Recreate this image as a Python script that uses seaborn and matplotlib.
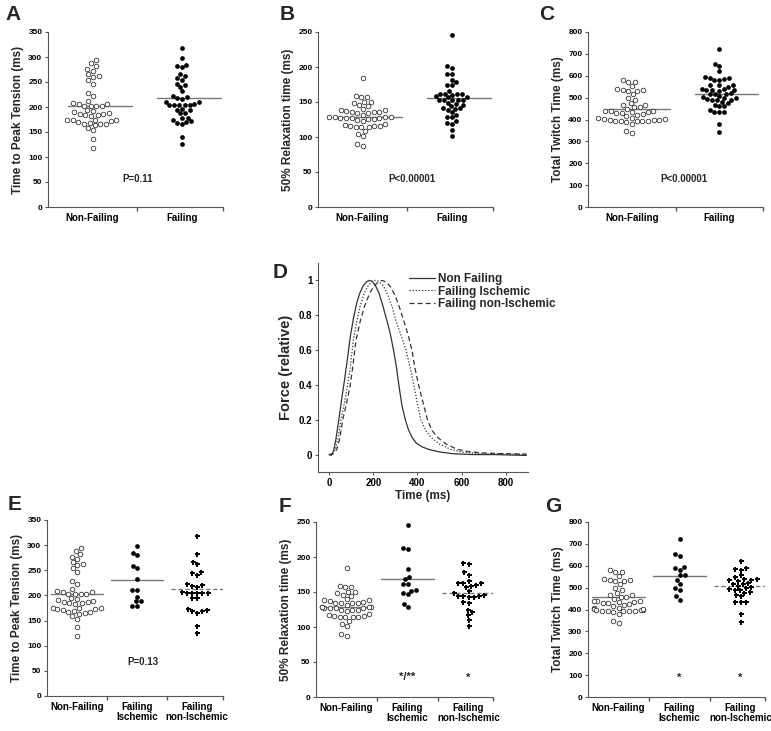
import numpy as np
import pandas as pd
import matplotlib
matplotlib.use("Agg")
import matplotlib.pyplot as plt
import seaborn as sns

# ---------------- data ----------------
# Time to peak tension (ms)
ttp_nonfailing = [295, 289, 282, 273, 277, 266, 260, 262, 254, 247, 228, 222,
                  208, 207, 203, 203, 203, 203, 207, 212,
                  194, 189, 187, 184, 183, 184, 186, 190, 193,
                  175, 175, 171, 169, 167, 166, 173, 174, 175,
                  164, 167, 159, 154, 137, 119]
ttp_ischemic = [298, 284, 280, 258, 254, 232, 211, 211, 197, 189, 188, 179, 179]
ttp_nonischemic = [318, 282, 262, 267, 245, 241, 247, 219, 223, 220, 217,
                   205, 205, 205, 207, 205, 205, 194, 194,
                   174, 170, 166, 169, 172, 140, 126]
ttp_failing = ttp_ischemic + ttp_nonischemic

# 50% relaxation time (ms)
rt50_nonfailing = [185, 157, 157, 159, 150, 144, 150, 146, 148,
                   139, 136, 135, 134, 132, 134, 135, 137, 139, 140,
                   129, 128, 127, 125, 124, 123, 125, 127, 127, 127, 128, 129,
                   117, 116, 114, 114, 114, 115, 116, 119,
                   108, 105, 101, 90, 87]
rt50_failing = [245, 198, 201, 182, 190, 190, 174, 174, 178,
                165, 162, 162, 162, 161, 158, 160, 157, 157,
                149, 153, 153, 153, 153, 153, 144, 142, 146, 147,
                140, 139, 141, 135, 131, 128, 128, 123, 119, 120, 110, 101]
rt50_ischemic = [246, 211, 213, 183, 172, 168, 162, 162, 152, 147, 149, 153, 133, 129]
rt50_nonischemic = [191, 190, 175, 178, 166, 163, 163, 163, 160, 159, 157, 151,
                    146, 144, 143, 143, 144, 144, 148, 135, 136, 125, 117, 121, 110, 101]

# Total twitch time (ms)
ttt_nonfailing = [582, 572, 572, 553, 537, 530, 530, 537, 541, 515, 500, 491,
                  465, 457, 450, 457, 465, 477,
                  439, 434, 434, 430, 419, 415, 424, 430, 439, 439,
                  409, 404, 399, 393, 393, 389, 381, 393, 393, 393, 396, 399, 404, 409,
                  346, 338]
ttt_ischemic = [723, 655, 643, 590, 582, 595, 556, 556, 537, 498, 518, 491, 460, 445]
ttt_nonischemic = [620, 590, 582, 585, 549, 532, 537, 540, 540, 534, 559,
                   518, 521, 509, 518, 498, 494, 491, 503,
                   460, 476, 468, 479, 488, 433, 433, 436, 381, 341]
ttt_failing = ttt_ischemic + ttt_nonischemic

# group means (horizontal lines)
means_A = [203, 218]
means_B = [129, 155]
means_C = [450, 517]
means_E = [203, 231, 213]
means_F = [129, 169, 148]
means_G = [456, 555, 506]

cats2 = ["Non-Failing", "Failing"]
cats3 = ["Non-Failing", "Failing\nIschemic", "Failing\nnon-Ischemic"]

# averaged twitch traces (panel D)
t_nf = [0, 10, 20, 30, 42, 55, 69, 80, 96, 110, 125, 140, 155, 170, 182, 195, 210,
        225, 240, 255, 270, 280, 293, 305, 318, 330, 345, 360, 375, 395, 420, 450,
        500, 560, 650, 750, 893]
f_nf = [0, -0.005, 0.02, 0.08, 0.18, 0.3, 0.42, 0.52, 0.676, 0.78, 0.87, 0.93,
        0.97, 0.992, 1.0, 0.995, 0.97, 0.93, 0.87, 0.8, 0.73, 0.676, 0.59, 0.5,
        0.38, 0.28, 0.2, 0.14, 0.1, 0.065, 0.045, 0.03, 0.015, 0.005, 0.0, 0.0, -0.005]
t_isch = [0, 15, 30, 42, 54, 70, 84, 96, 109, 125, 140, 160, 180, 195, 210, 225,
          245, 265, 285, 305, 328, 348, 367, 385, 400, 415, 437, 460, 500, 550, 600,
          680, 780, 893]
f_isch = [0, 0.005, 0.04, 0.1, 0.2, 0.3, 0.4, 0.5, 0.65, 0.76, 0.85, 0.93, 0.975,
          0.995, 1.0, 0.995, 0.97, 0.92, 0.85, 0.76, 0.676, 0.6, 0.5, 0.39, 0.29,
          0.2, 0.14, 0.1, 0.06, 0.03, 0.015, 0.005, 0.003, 0.0]
t_nonisch = [0, 20, 35, 48, 62, 80, 96, 107, 121, 140, 160, 185, 205, 222, 240, 260,
             280, 300, 320, 340, 360, 375, 388, 405, 425, 445, 465, 490, 530, 580,
             640, 720, 800, 893]
f_nonisch = [0, 0.005, 0.03, 0.09, 0.2, 0.3, 0.4, 0.5, 0.65, 0.76, 0.85, 0.93, 0.97,
             0.99, 1.0, 0.99, 0.96, 0.91, 0.84, 0.76, 0.676, 0.6, 0.5, 0.4, 0.3, 0.2,
             0.14, 0.1, 0.06, 0.03, 0.015, 0.008, 0.005, 0.003]

# ---------------- style ----------------
sns.set_theme(style="ticks")
plt.rcParams.update({
    "font.family": ["Liberation Sans", "DejaVu Sans"],
    "font.weight": "bold",
    "axes.labelweight": "bold",
    "axes.linewidth": 0.8,
    "axes.edgecolor": "#555555",
    "xtick.color": "#555555",
    "ytick.color": "#555555",
    "xtick.labelcolor": "black",
    "ytick.labelcolor": "black",
    "xtick.major.width": 0.8,
    "ytick.major.width": 0.8,
})

fig = plt.figure(figsize=(7.71, 7.31), dpi=100)

W, H = 771.0, 731.0


def rect(left, top, right, bottom):
    return [left / W, 1 - bottom / H, (right - left) / W, (bottom - top) / H]


def scatter_panel(r, cats, groups, kinds, means, ymax, ystep, ylabel, xright, off, half):
    ax = fig.add_axes(r)
    rows = []
    for c, vals in zip(cats, groups):
        rows += [(c, v) for v in vals]
    df = pd.DataFrame(rows, columns=["grp", "val"])
    for c, kind in zip(cats, kinds):
        sub = df[df["grp"] == c]
        if kind == "open":
            sns.swarmplot(data=sub, x="grp", y="val", order=cats, ax=ax, size=3.3,
                          marker="o", color="white", edgecolor="#333333", linewidth=0.6)
        elif kind == "filled":
            sns.swarmplot(data=sub, x="grp", y="val", order=cats, ax=ax, size=3.4,
                          marker="o", color="black", linewidth=0)
        else:
            sns.swarmplot(data=sub, x="grp", y="val", order=cats, ax=ax, size=3.6,
                          marker="P", color="black", linewidth=0)
    for i, (m, kind) in enumerate(zip(means, kinds)):
        ls = (0, (3, 2)) if kind == "star" else "-"
        ax.plot([i + off - half, i + off + half], [m, m], color="#777777", lw=1, ls=ls)
    ax.set_ylim(0, ymax)
    ax.set_yticks(np.arange(0, ymax + 1, ystep))
    ax.set_xlim(-0.5, xright)
    ax.set_xlabel("")
    ax.set_ylabel(ylabel, fontsize=8.5, labelpad=3)
    ax.tick_params(axis="y", labelsize=6, length=2.5, pad=1.5)
    ax.tick_params(axis="x", which="major", length=0, labelsize=7, pad=4)
    ax.set_xticks([i + 0.5 for i in range(len(cats) - 1)] + [xright], minor=True)
    ax.tick_params(axis="x", which="minor", length=3)
    for lab in ax.get_xticklabels():
        lab.set_fontweight("bold")
        lab.set_linespacing(1.0)
    sns.despine(ax=ax)
    return ax


axA = scatter_panel(rect(48, 32, 223, 207), cats2, [ttp_nonfailing, ttp_failing],
                    ["open", "filled"], means_A, 350, 50, "Time to Peak Tension (ms)",
                    1.46, 0.08, 0.36)
axA.text(0.5, 56, "P=0.11", ha="center", va="center", fontsize=7)

axB = scatter_panel(rect(318, 32, 493, 207), cats2, [rt50_nonfailing, rt50_failing],
                    ["open", "filled"], means_B, 250, 50, "50% Relaxation time (ms)",
                    1.46, 0.08, 0.36)
axB.text(0.55, 40, "P<0.00001", ha="center", va="center", fontsize=7)

axC = scatter_panel(rect(588, 32, 763, 207), cats2, [ttt_nonfailing, ttt_failing],
                    ["open", "filled"], means_C, 800, 100, "Total Twitch Time (ms)",
                    1.5, 0.08, 0.36)
axC.text(0.6, 126, "P<0.00001", ha="center", va="center", fontsize=7)

axE = scatter_panel(rect(47, 520, 223, 696), cats3,
                    [ttp_nonfailing, ttp_ischemic, ttp_nonischemic],
                    ["open", "filled", "star"], means_E, 350, 50,
                    "Time to Peak Tension (ms)", 2.43, 0.0, 0.43)
axE.text(1.1, 68, "P=0.13", ha="center", va="center", fontsize=7)

axF = scatter_panel(rect(316, 522, 493, 697), cats3,
                    [rt50_nonfailing, rt50_ischemic, rt50_nonischemic],
                    ["open", "filled", "star"], means_F, 250, 50,
                    "50% Relaxation time (ms)", 2.4, 0.0, 0.43)
axF.text(1, 28, "*/**", ha="center", va="center", fontsize=8)
axF.text(2, 28, "*", ha="center", va="center", fontsize=8)

axG = scatter_panel(rect(588, 522, 765, 697), cats3,
                    [ttt_nonfailing, ttt_ischemic, ttt_nonischemic],
                    ["open", "filled", "star"], means_G, 800, 100,
                    "Total Twitch Time (ms)", 2.4, 0.0, 0.43)
axG.text(1, 88, "*", ha="center", va="center", fontsize=8)
axG.text(2, 88, "*", ha="center", va="center", fontsize=8)

# ---------------- panel D: twitch traces ----------------
axD = fig.add_axes(rect(318, 263, 528, 472))
traces = pd.concat([
    pd.DataFrame({"t": t_nf, "force": f_nf, "curve": "Non Failing"}),
    pd.DataFrame({"t": t_isch, "force": f_isch, "curve": "Failing Ischemic"}),
    pd.DataFrame({"t": t_nonisch, "force": f_nonisch, "curve": "Failing non-Ischemic"}),
])
sns.lineplot(data=traces, x="t", y="force", style="curve", ax=axD, color="#333333",
             lw=0.9, errorbar=None,
             dashes={"Non Failing": "", "Failing Ischemic": (1, 1.5),
                     "Failing non-Ischemic": (4, 2.5)})
sns.move_legend(axD, "upper left", bbox_to_anchor=(0.41, 0.975), frameon=False,
                title=None, fontsize=8.5, handlelength=2.2, handletextpad=0.3,
                labelspacing=0.05, borderaxespad=0)
axD.set_xlim(-50, 900)
axD.set_ylim(-0.1, 1.1)
axD.set_xticks([0, 200, 400, 600, 800])
axD.set_yticks([0, 0.2, 0.4, 0.6, 0.8, 1.0])
axD.set_yticklabels(["0", "0.2", "0.4", "0.6", "0.8", "1"])
axD.set_xlabel("Time (ms)", fontsize=8.5, labelpad=2)
axD.set_ylabel("Force (relative)", fontsize=10.5, labelpad=4)
axD.tick_params(labelsize=7, length=2.5, pad=1.5)
sns.despine(ax=axD)

# panel letters
for letter, x, y in [("A", 13, 15), ("B", 287, 15), ("C", 547, 15), ("D", 280, 273),
                     ("E", 15, 505), ("F", 285, 507), ("G", 553, 507)]:
    fig.text(x / W, 1 - y / H, letter, ha="center", va="center", fontsize=15,
             fontweight="bold")

fig.savefig("out.png", dpi=100)
